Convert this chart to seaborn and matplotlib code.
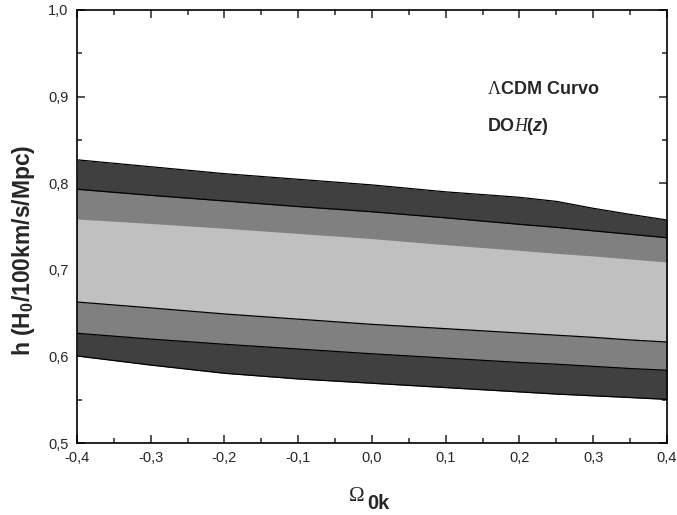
import numpy as np
import pandas as pd
import matplotlib
matplotlib.use("Agg")
import matplotlib.pyplot as plt
from matplotlib.ticker import MultipleLocator, FuncFormatter
import seaborn as sns

# Data
omega_k = [-0.4, -0.3, -0.2, -0.1, 0.0, 0.1, 0.2, 0.25, 0.3, 0.35, 0.4]
h_3s_upper = [0.827, 0.819, 0.811, 0.8045, 0.798, 0.790, 0.7837, 0.779, 0.771, 0.764, 0.7575]
h_2s_upper = [0.793, 0.786, 0.7795, 0.773, 0.767, 0.760, 0.7525, 0.749, 0.745, 0.741, 0.737]
h_1s_upper = [0.7587, 0.7535, 0.748, 0.742, 0.736, 0.729, 0.7225, 0.719, 0.716, 0.7125, 0.709]
h_1s_lower = [0.6628, 0.656, 0.649, 0.643, 0.637, 0.632, 0.627, 0.6245, 0.622, 0.619, 0.6166]
h_2s_lower = [0.6267, 0.620, 0.614, 0.6085, 0.603, 0.598, 0.593, 0.591, 0.5885, 0.586, 0.584]
h_3s_lower = [0.6005, 0.590, 0.5805, 0.574, 0.569, 0.564, 0.559, 0.5565, 0.5545, 0.5525, 0.5504]

x_ticks = [-0.4, -0.3, -0.2, -0.1, 0.0, 0.1, 0.2, 0.3, 0.4]
y_ticks = [0.5, 0.6, 0.7, 0.8, 0.9, 1.0]

sns.set_style("ticks")
plt.rcParams['font.family'] = ['Liberation Sans', 'DejaVu Sans']
plt.rcParams['mathtext.fontset'] = 'custom'
plt.rcParams['mathtext.rm'] = 'Liberation Serif'
plt.rcParams['mathtext.it'] = 'Liberation Serif:italic'
plt.rcParams['mathtext.bf'] = 'Liberation Sans:bold'
plt.rcParams['mathtext.bfit'] = 'Liberation Sans:bold:italic'

df = pd.DataFrame({
    "x": omega_k,
    "u3": h_3s_upper, "u2": h_2s_upper, "u1": h_1s_upper,
    "l1": h_1s_lower, "l2": h_2s_lower, "l3": h_3s_lower,
})

fig = plt.figure(figsize=(6.77, 5.15), dpi=100)
ax = fig.add_axes([0.1137, 0.1398, 0.8715, 0.8408])

dark, mid, light = "#404040", "#808080", "#c0c0c0"
ax.fill_between(df["x"], df["l3"], df["u3"], color=dark, lw=0)
ax.fill_between(df["x"], df["l2"], df["u2"], color=mid, lw=0)
ax.fill_between(df["x"], df["l1"], df["u1"], color=light, lw=0)

for col in ["u3", "u2", "l1", "l2", "l3"]:
    sns.lineplot(data=df, x="x", y=col, ax=ax, color="black", lw=0.9)

ax.set_xlim(-0.4, 0.4)
ax.set_ylim(0.5, 1.0)
ax.set_xticks(x_ticks)
ax.set_yticks(y_ticks)
ax.xaxis.set_minor_locator(MultipleLocator(0.05))
ax.yaxis.set_minor_locator(MultipleLocator(0.05))
fmt = FuncFormatter(lambda v, p: f"{v:.1f}".replace(".", ",").replace("-0,0", "0,0"))
ax.xaxis.set_major_formatter(fmt)
ax.yaxis.set_major_formatter(fmt)
ax.tick_params(which="both", direction="in", top=True, right=True, width=1.1, labelsize=10.5, pad=6)
ax.tick_params(which="major", length=6)
ax.tick_params(which="minor", length=3.5)
for s in ax.spines.values():
    s.set_linewidth(1.2)
    s.set_color("black")

ax.set_xlabel("")
ax.set_ylabel(r"h (H$_\mathbf{0}$/100km/s/Mpc)", fontsize=16.5, fontweight="bold")
ax.yaxis.set_label_coords(-0.068, 0.446)

fig.text(0.539, 0.0272, r"$\Omega$", fontsize=15, ha="right", va="baseline")
fig.text(0.542, 0.011, "0k", fontsize=14.5, fontweight="bold", ha="left", va="baseline")

ax.text(0.156, 0.908, r"$\Lambda$CDM Curvo", fontsize=13, fontweight="bold", va="center", ha="left")
ax.text(0.156, 0.866, r"DO$\mathit{H}$($\mathbfit{z}$)", fontsize=13, fontweight="bold", va="center", ha="left")

fig.savefig("out.png", dpi=100, facecolor="white")
